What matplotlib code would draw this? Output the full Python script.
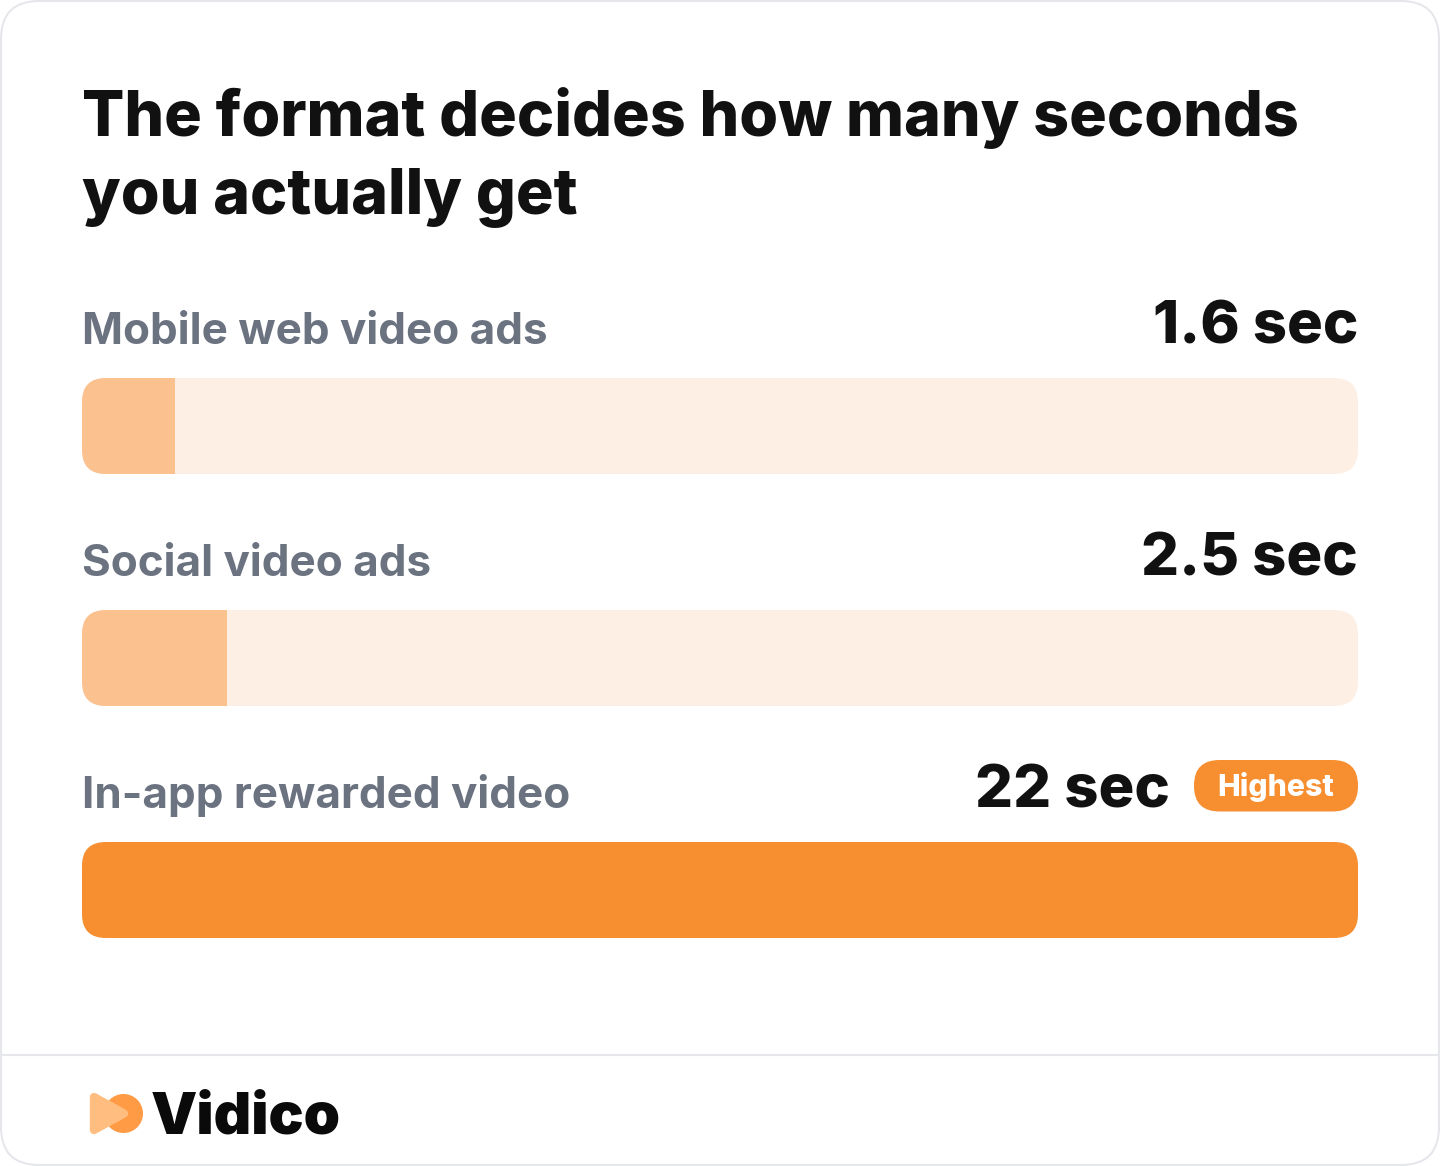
import matplotlib
matplotlib.use("Agg")
import matplotlib.pyplot as plt
from matplotlib.patches import FancyBboxPatch, Circle, Polygon

categories = ["Mobile web video ads", "Social video ads", "In-app rewarded video"]
values = [1.6, 2.5, 22]
value_labels = ["1.6 sec", "2.5 sec", "22 sec"]
title_lines = ["The format decides how many seconds", "you actually get"]

W, H = 1440, 1166
ORANGE = "#F78F31"
LIGHT = "#FBC18F"
TRACK = "#FDEFE4"
GREY = "#6B7280"
INK = "#111111"
LINE = "#E5E7EB"

plt.rcParams["font.family"] = ["Inter", "DejaVu Sans"]
px = 0.72  # pixels to points at dpi 100

fig = plt.figure(figsize=(W / 100, H / 100), dpi=100, facecolor="white")
canvas = fig.add_axes([0, 0, 1, 1])
canvas.set_xlim(0, W)
canvas.set_ylim(H, 0)
canvas.axis("off")

def rounded(x0, y0, x1, y1, r, **kw):
    p = FancyBboxPatch((x0 + r, y0 + r), x1 - x0 - 2 * r, y1 - y0 - 2 * r,
                       boxstyle="round,pad={},rounding_size={}".format(r, r), **kw)
    canvas.add_patch(p)
    return p

# card
rounded(1, 1, 1439, 1165, 38, fc="white", ec=LINE, lw=1.5)
canvas.plot([1, 1439], [1055, 1055], color=LINE, lw=1.5)

# title
canvas.text(82, 136, title_lines[0], fontsize=62.7 * px, fontweight=800, color=INK, va="baseline")
canvas.text(82, 214, title_lines[1], fontsize=62.7 * px, fontweight=800, color=INK, va="baseline")

# bars go in their own axes so the lengths come from the x scale
row_h = 96 / 232
bars = fig.add_axes([82 / W, 1 - 938 / H, 1276 / W, 560 / H])
bars.set_xlim(0, max(values))
bars.set_ylim(2 + row_h / 2, -row_h / 2)
bars.axis("off")
bars.patch.set_alpha(0)

tracks = []
for i in range(len(values)):
    cy = 426 + 232 * i
    tracks.append(rounded(82, cy - 48, 1358, cy + 48, 24, fc=TRACK, ec="none"))

rects = bars.barh(range(len(values)), values, height=row_h,
                  color=[LIGHT, LIGHT, ORANGE], edgecolor="none")
for r, t in zip(rects, tracks):
    r.set_clip_path(t)

# row labels
right_edges = [1358, 1358, 1170]
for i in range(len(values)):
    base = 344 + 232 * i
    canvas.text(82, base, categories[i], fontsize=44 * px, fontweight="bold", color=GREY, va="baseline")
    canvas.text(right_edges[i], base, value_labels[i], fontsize=59.7 * px, fontweight=800, color=INK,
                va="baseline", ha="right")

# highest pill
rounded(1194, 760, 1358, 811.5, 25.5, fc=ORANGE, ec="none")
canvas.text(1276, 796, "Highest", fontsize=30.2 * px, fontweight=800, color="white", va="baseline", ha="center")

# logo
canvas.add_patch(Circle((123.5, 1113.5), 19.5, fc="#FF9A45", ec="none", zorder=3))
canvas.add_patch(Polygon([[94, 1097], [124, 1113.5], [94, 1130]], closed=True, fc="#FFBE7F", ec="#FFBE7F",
                         lw=6, joinstyle="round", zorder=4))
canvas.text(151, 1133, "Vidico", fontsize=58.3 * px, fontweight="black", color="#0A0A0A", va="baseline")

fig.savefig("out.png", dpi=100)
